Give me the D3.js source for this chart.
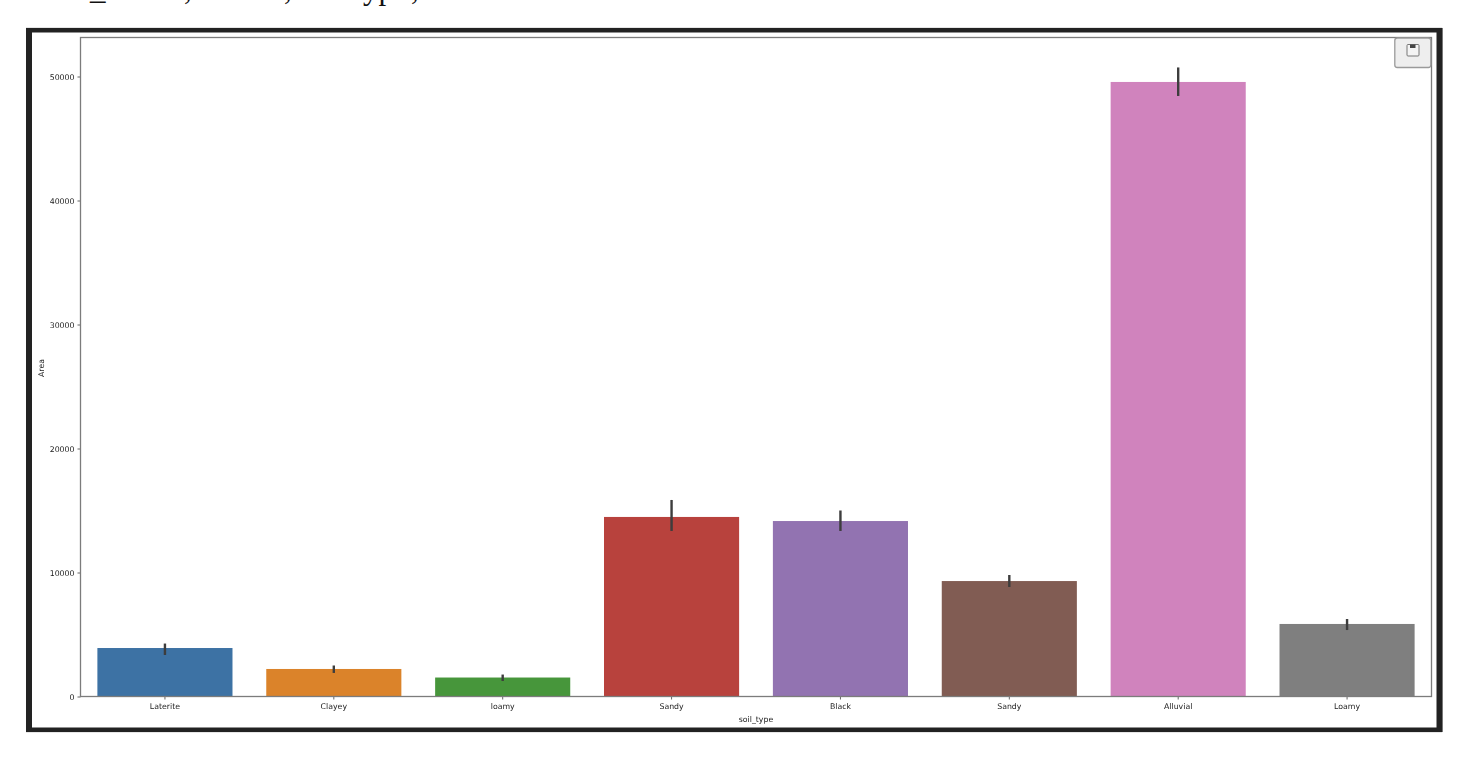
<!DOCTYPE html>
<html>
<head>
<meta charset="utf-8">
<script src="https://cdnjs.cloudflare.com/ajax/libs/d3/7.8.5/d3.min.js"></script>
<style>
html,body{margin:0;padding:0;background:#fff;overflow:hidden}
svg{display:block}
text{font-family:"DejaVu Sans",sans-serif;fill:#333}
</style>
</head>
<body>
<svg id="chart" width="1459" height="765"></svg>
<script>
const categories = ["Laterite","Clayey","loamy","Sandy","Black","Sandy","Alluvial","Loamy"];
const areaMeans  = [3910,2220,1530,14480,14150,9310,49560,5850];
const errLow     = [3350,1900,1250,13350,13350,8830,48430,5360];
const errHigh    = [4270,2500,1770,15850,15000,9800,50730,6250];
const barColors  = ["#3d72a4","#db8329","#46963a","#b8423c","#9273b1","#815c52","#d083bd","#7f7f7f"];
const yTicks     = [0,10000,20000,30000,40000,50000];
const clippedText = [["_",90],[",",184],[",",284],["yp",363],[",",411]];
const xLabel = "soil_type", yLabel = "Area";

const svg = d3.select("#chart");
const defs = svg.append("defs");
defs.append("filter").attr("id","soft").attr("x","-2%").attr("y","-2%").attr("width","104%").attr("height","104%")
  .append("feGaussianBlur").attr("stdDeviation",0.6);

const root = svg.append("g").attr("filter","url(#soft)");

// Cut-off line of text along the top edge
svg.append("g").selectAll("text").data(clippedText).join("text")
  .attr("x",d=>d[1]).attr("y",-1.5)
  .style("font-family","'Liberation Serif',serif").style("font-size","31px").style("fill","#111")
  .text(d=>d[0]);

// Screenshot frame
root.append("rect").attr("x",28.3).attr("y",30.2).attr("width",1411.6).attr("height",699.6)
  .attr("fill","#fff").attr("stroke","#222").attr("stroke-width",4.6);
root.append("rect").attr("x",26).attr("y",28).attr("width",6).attr("height",704).attr("fill","#222");
root.append("rect").attr("x",1436.5).attr("y",28).attr("width",6).attr("height",704).attr("fill","#222");

const L=80.5,R=1431.5,T=37.5,B=696.5;
const x = d3.scaleBand().domain(d3.range(categories.length)).range([L,R]).paddingInner(0.2).paddingOuter(0.1);
const y = d3.scaleLinear().domain([0,(B-T)/(B-76.5)*50000]).range([B,T]);

// Bars
root.append("g").selectAll("rect").data(areaMeans).join("rect")
  .attr("x",(d,i)=>x(i)).attr("width",x.bandwidth())
  .attr("y",d=>y(d)).attr("height",d=>B-y(d))
  .attr("fill",(d,i)=>barColors[i]);

// Error bars
root.append("g").selectAll("line").data(categories).join("line")
  .attr("x1",(d,i)=>x(i)+x.bandwidth()/2).attr("x2",(d,i)=>x(i)+x.bandwidth()/2)
  .attr("y1",(d,i)=>y(errLow[i])).attr("y2",(d,i)=>y(errHigh[i]))
  .attr("stroke","#3c3c3c").attr("stroke-width",2.4);

// Axes
const axB = root.append("g").attr("transform",`translate(0,${B})`)
  .call(d3.axisBottom(x).tickFormat(i=>categories[i]).tickSize(3).tickPadding(3.5));
const axL = root.append("g").attr("transform",`translate(${L},0)`)
  .call(d3.axisLeft(y).tickValues(yTicks).tickFormat(d3.format("d")).tickSize(3).tickPadding(3));
[axB,axL].forEach(a=>{
  a.selectAll("text").style("font-size","7.8px").style("font-family","'DejaVu Sans',sans-serif").attr("fill","#222").style("fill","#222");
  a.selectAll("line").attr("stroke","#555").attr("stroke-width",0.9);
  a.select(".domain").remove();
});

// Plot spines
root.append("rect").attr("x",L).attr("y",T).attr("width",R-L).attr("height",B-T)
  .attr("fill","none").attr("stroke","#7c7c7c").attr("stroke-width",1.3);

// Axis titles
root.append("text").attr("x",756).attr("y",721.5).attr("text-anchor","middle").style("font-size","7.8px").style("fill","#222").text(xLabel);
root.append("text").attr("transform","translate(43.5,368) rotate(-90)").attr("text-anchor","middle").style("font-size","7.8px").style("fill","#222").text(yLabel);

// Save button
root.append("rect").attr("x",1394.8).attr("y",38).attr("width",36).attr("height",29.5).attr("rx",2.5)
  .attr("fill","#eeeeee").attr("stroke","#9a9a9a").attr("stroke-width",1.3);
const icon = root.append("g").attr("transform","translate(1407,44.5)");
icon.append("rect").attr("width",12).attr("height",11.5).attr("rx",1).attr("fill","#f4f4f4").attr("stroke","#777").attr("stroke-width",1);
icon.append("rect").attr("x",3).attr("y",0).attr("width",5.5).attr("height",3.5).attr("fill","#444");
</script>
</body>
</html>
